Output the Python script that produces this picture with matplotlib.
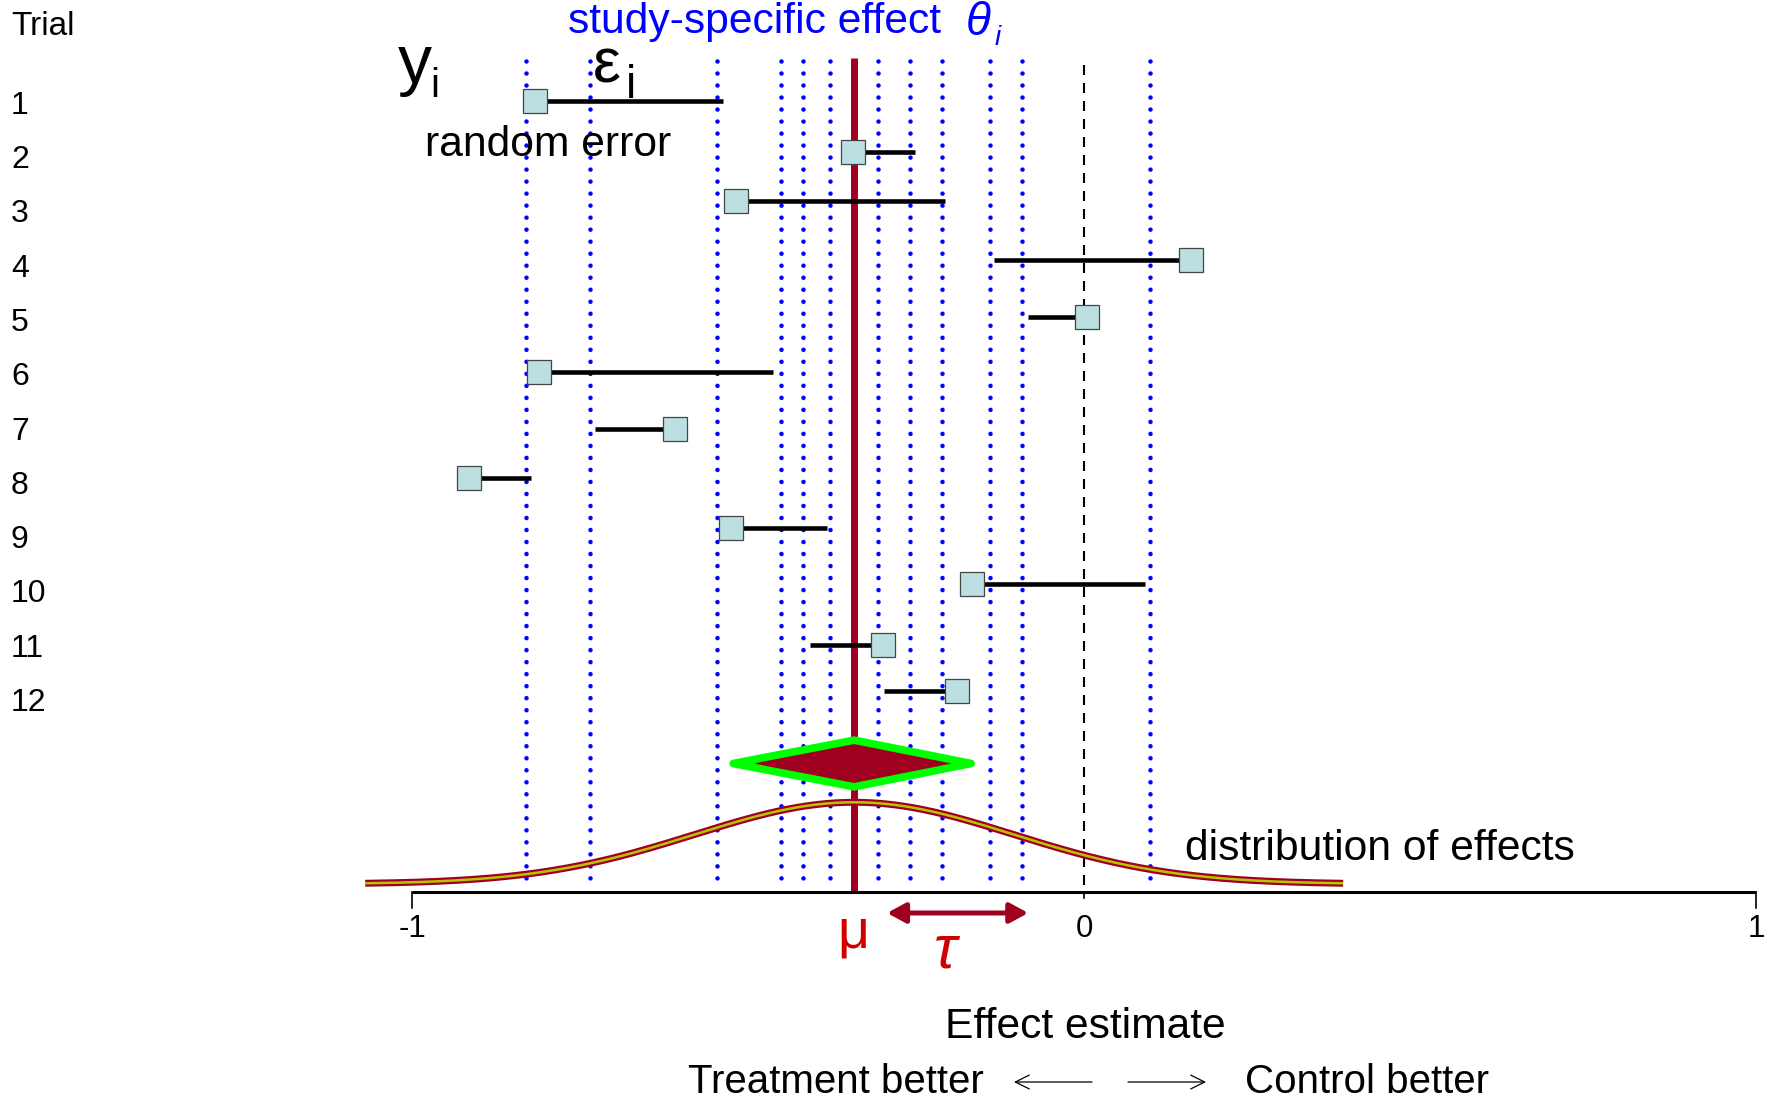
import numpy as np
import matplotlib
matplotlib.use("Agg")
import matplotlib.pyplot as plt
from matplotlib.patches import Polygon

plt.rcParams['font.family'] = ['Liberation Sans', 'DejaVu Sans']

# --- data (effect scale) ---
trials = [str(i) for i in range(1, 13)]
row_y = [0.96, 1.90, 2.81, 3.89, 4.94, 5.95, 7.00, 7.91, 8.83, 9.86, 10.98, 11.83]
y_obs = [-0.817, -0.344, -0.518, 0.159, 0.004, -0.811, -0.609, -0.915, -0.525, -0.167, -0.299, -0.189]
err_end = [-0.537, -0.251, -0.207, -0.134, -0.083, -0.463, -0.728, -0.823, -0.382, 0.091, -0.408, -0.298]
theta = [-0.830, -0.735, -0.546, -0.451, -0.418, -0.378, -0.307, -0.259, -0.211, -0.140, -0.092, 0.098]
mu = -0.342
mu_ci = [-0.522, -0.168]
tau = 0.237
tau_span = [-0.293, -0.083]
xticks = [-1, 0, 1]
xtick_labels = ['-1', '0', '1']

DARKRED = '#a00020'
RED = '#d00000'
BLUE = '#0000ff'

W, H, DPI = 1772, 1104, 100
fig = plt.figure(figsize=(W / DPI, H / DPI), dpi=DPI)
ax = fig.add_axes([0, 0, 1, 1])
ax.set_xlim((0 - 1084) / 672, (W - 1084) / 672)
ax.set_ylim(1 + (H - 103) / 54.3, 1 - 103 / 54.3)
ax.axis('off')


def fx(px):
    return px / W


def fy(py):
    return 1 - py / H


axis_y = 15.53

# study-specific effects (dotted)
for t in theta:
    ax.plot([t, t], [0.226, 15.457], color=BLUE, lw=3.3,
            linestyle=(0, (0.001, 2.62)), dash_capstyle='round', zorder=1)

# zero line
ax.plot([0, 0], [0.30, axis_y], color='black', lw=1.5, dashes=(4.8, 3.84), zorder=2)

# overall effect line
ax.plot([mu, mu], [0.171, 15.55], color=DARKRED, lw=5, solid_capstyle='butt', zorder=3)

# distribution of effects
xs = np.linspace(mu - 3.07 * tau, mu + 3.07 * tau, 300)
ys = 15.383 - 1.505 * np.exp(-0.5 * ((xs - mu) / tau) ** 2)
ax.plot(xs, ys, color=DARKRED, lw=5.0, solid_capstyle='butt', zorder=4)
ax.plot(xs, ys, color='#b8c400', lw=1.8, solid_capstyle='butt', zorder=4)

# diamond
dy, dh = 13.164, 0.43
ax.add_patch(Polygon([(mu_ci[0], dy), (mu, dy - dh), (mu_ci[1], dy), (mu, dy + dh)],
                     closed=True, facecolor=DARKRED, edgecolor='#00ff00', lw=5.5,
                     joinstyle='round', zorder=5))

# random errors and observed effects
ax.hlines(row_y, y_obs, err_end, color='black', lw=3.3, zorder=5)
ax.plot(y_obs, row_y, 's', ms=17.2, mfc='#bcdfe1', mec='#454545', mew=0.9,
        ls='none', zorder=6)

# x axis
ax.plot([xticks[0], xticks[-1]], [axis_y, axis_y], color='black', lw=2.2,
        solid_capstyle='butt', zorder=3)
for t, lab in zip(xticks, xtick_labels):
    ax.plot([t, t], [axis_y, axis_y + (0.11 if t == 0 else 0.3)], color='black', lw=1.2)
    ax.text(t, 16.21, lab, ha='center', va='center', fontsize=22.5)

# tau arrow
ax.annotate('', xy=(tau_span[1], 15.917), xytext=(tau_span[0], 15.917),
            arrowprops=dict(arrowstyle='<|-|>,head_length=0.55,head_width=0.3',
                            color=DARKRED, lw=3.6, shrinkA=0, shrinkB=0,
                            mutation_scale=20))

# trial labels
fig.text(fx(11), fy(35), 'Trial', fontsize=24, ha='left', va='baseline')
for k, lab in enumerate(trials, start=1):
    ax.text((11 - 1084) / 672, k + 0.05, lab, ha='left', va='center', fontsize=23)

# annotations
fig.text(fx(568), fy(33), 'study-specific effect', color=BLUE, fontsize=30.7, va='baseline')
fig.text(fx(966), fy(35), 'θ', color=BLUE, fontsize=33, style='italic', va='baseline')
fig.text(fx(995), fy(45), 'i', color=BLUE, fontsize=20, style='italic', va='baseline')
fig.text(fx(398), fy(83), 'y', fontsize=49, va='baseline')
fig.text(fx(430), fy(97), 'i', fontsize=29, va='baseline')
fig.text(fx(593), fy(83), 'ε', fontsize=45, va='baseline')
fig.text(fx(626), fy(98), 'i', fontsize=33, va='baseline')
fig.text(fx(425), fy(156), 'random error', fontsize=30.7, va='baseline')
fig.text(fx(1185), fy(860), 'distribution of effects', fontsize=30.7, va='baseline')
fig.text(fx(853), fy(947), 'μ', color=RED, fontsize=40, ha='center', va='baseline')
fig.text(fx(945), fy(968), 'τ', color=RED, fontsize=44, style='italic', ha='center',
         va='baseline')
fig.text(fx(945), fy(1038), 'Effect estimate', fontsize=30.7, va='baseline')
fig.text(fx(688), fy(1093), 'Treatment better', fontsize=29, va='baseline')
fig.text(fx(1245), fy(1093), 'Control better', fontsize=29, va='baseline')
arrow = dict(arrowstyle='->,head_length=0.5,head_width=0.25', color='black', lw=0.9,
             shrinkA=0, shrinkB=0, mutation_scale=20)
ax.annotate('', xy=(fx(1014), fy(1082)), xytext=(fx(1092), fy(1082)),
            xycoords='figure fraction', textcoords='figure fraction', arrowprops=arrow)
ax.annotate('', xy=(fx(1206), fy(1082)), xytext=(fx(1128), fy(1082)),
            xycoords='figure fraction', textcoords='figure fraction', arrowprops=arrow)

fig.savefig('out.png', dpi=DPI)
